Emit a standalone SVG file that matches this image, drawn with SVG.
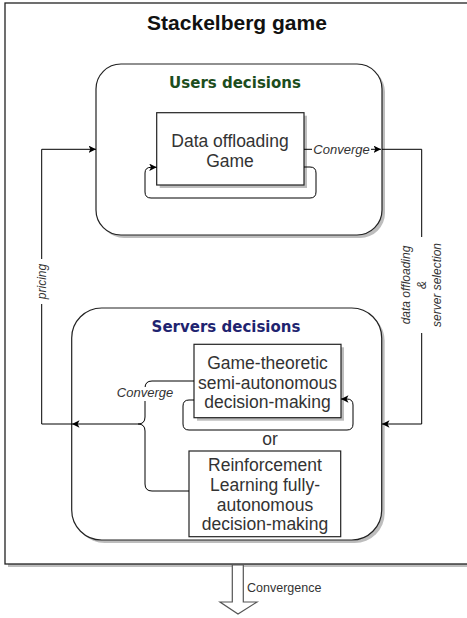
<svg xmlns="http://www.w3.org/2000/svg" width="467" height="618" viewBox="0 0 467 618">
<defs>
<marker id="arr" viewBox="0 0 10 10" refX="10" refY="5" markerWidth="7.5" markerHeight="7.5" orient="auto" markerUnits="userSpaceOnUse">
<path d="M0,0 L10,5 L0,10 L2.5,5 Z" fill="#000"/>
</marker>
</defs>
<style>
.frame{fill:#fff;stroke:#222;stroke-width:1.3}
.shadow{fill:#bdbdbd;stroke:none}
.group{fill:#fff;stroke:#222;stroke-width:1.2}
.box{fill:#fff;stroke:#222;stroke-width:1.2}
.txt{font-family:"Liberation Sans",Arial,sans-serif;font-size:17.5px;fill:#333;text-anchor:middle}
.lbl{font-family:"Liberation Sans",Arial,sans-serif;font-size:13px;font-style:italic;fill:#333;text-anchor:middle}
.lbls{font-family:"Liberation Sans",Arial,sans-serif;font-size:12px;font-style:italic;fill:#333;text-anchor:middle}
.head{font-family:"DejaVu Sans",Verdana,sans-serif;font-size:15px;font-weight:bold;text-anchor:middle}
.conn{fill:none;stroke:#000;stroke-width:1}
.bg{fill:#fff;stroke:none}
</style>

<g id="stackelberg-frame">
<rect class="shadow" x="8" y="6" width="470" height="561"/>
<rect class="frame" x="5" y="3" width="470" height="561"/>
<text x="237" y="30" style="font-family:'Liberation Sans',Arial,sans-serif;font-size:21px;font-weight:bold;fill:#111;text-anchor:middle">Stackelberg game</text>
</g>

<g id="users-decisions">
<rect class="shadow" x="99" y="67" width="286" height="171" rx="25"/>
<rect class="group" x="96" y="64" width="286" height="171" rx="25"/>
<text class="head" x="235" y="87.5" fill="#1d4d1d">Users decisions</text>
</g>

<g id="data-offloading-game">
<rect class="shadow" x="159.7" y="115.7" width="147.3" height="72.3"/>
<rect class="box" x="156.7" y="112.7" width="147.3" height="72.3"/>
<text class="txt" x="230" y="147">Data offloading</text>
<text class="txt" x="230" y="166.5">Game</text>
</g>

<g id="servers-decisions">
<rect class="shadow" x="74.7" y="311" width="310" height="232" rx="30"/>
<rect class="group" x="71.7" y="308" width="310" height="232" rx="30"/>
<text class="head" x="226" y="332" fill="#1f2470">Servers decisions</text>
<text class="txt" x="270" y="445">or</text>
</g>

<g id="game-theoretic">
<rect class="shadow" x="197" y="347.3" width="147" height="73.4"/>
<rect class="box" x="194" y="344.3" width="147" height="73.4"/>
<text class="txt" x="267.5" y="369.3">Game-theoretic</text>
<text class="txt" x="267.5" y="389">semi-autonomous</text>
<text class="txt" x="267.5" y="408.3">decision-making</text>
</g>

<g id="reinforcement-learning">
<rect class="box" x="189" y="451" width="151.7" height="85.7"/>
<text class="txt" x="265" y="471.3">Reinforcement</text>
<text class="txt" x="265" y="491">Learning fully-</text>
<text class="txt" x="265" y="510.8">autonomous</text>
<text class="txt" x="265" y="530">decision-making</text>
</g>

<g id="connectors">
<!-- converge (users) -->
<path class="conn" d="M304,149.3 H381" marker-end="url(#arr)"/>
<rect class="bg" x="312" y="142" width="59" height="14"/>
<text class="lbl" x="341.5" y="153.5">Converge</text>

<!-- data offloading & server selection -->
<path class="conn" d="M382,149.3 H421.7 V424 H382" marker-end="url(#arr)"/>
<rect class="bg" x="400" y="237" width="46" height="96"/>
<g transform="translate(421.7,285) rotate(-90)">
<text class="lbls" x="0" y="-12">data offloading</text>
<text class="lbls" x="0" y="4">&amp;</text>
<text class="lbls" x="0" y="19">server selection</text>
</g>

<!-- pricing -->
<path class="conn" d="M72,424 H41.7 V149.3 H96" marker-end="url(#arr)"/>
<rect class="bg" x="34" y="259" width="16" height="45"/>
<g transform="translate(41.7,281.5) rotate(-90)">
<text class="lbls" x="0" y="4">pricing</text>
</g>

<!-- loop data offloading -->
<path class="conn" d="M304,167 H310 Q316,167 316,173 V192 Q316,198 310,198 H151 Q145,198 145,192 V173 Q145,167.3 151,167.3 H156.7" marker-end="url(#arr)"/>

<!-- loop game-theoretic -->
<path class="conn" d="M194,400 H189 Q183,400 183,406 V424 Q183,430 189,430 H347 Q353,430 353,424 V405 Q353,399 347,399 H341" marker-end="url(#arr)"/>

<!-- converge brace -->
<path class="conn" d="M194,381 H152 Q145,381 145,388 V417 Q145,424 138,424"/>
<path class="conn" d="M189,491 H152 Q145,491 145,484 V431 Q145,424 138,424"/>
<path class="conn" d="M138,424 H72" marker-end="url(#arr)"/>
<rect class="bg" x="116" y="387" width="58" height="14"/>
<text class="lbl" x="145" y="397">Converge</text>
</g>

<g id="convergence-arrow">
<polygon points="232.3,565 243.3,565 243.3,602 257,602 238,614 220,602 232.3,602" fill="#fff" stroke="#555" stroke-width="1.2"/>
<text x="247" y="592" style="font-family:'Liberation Sans',Arial,sans-serif;font-size:12.5px;fill:#333">Convergence</text>
</g>
</svg>
